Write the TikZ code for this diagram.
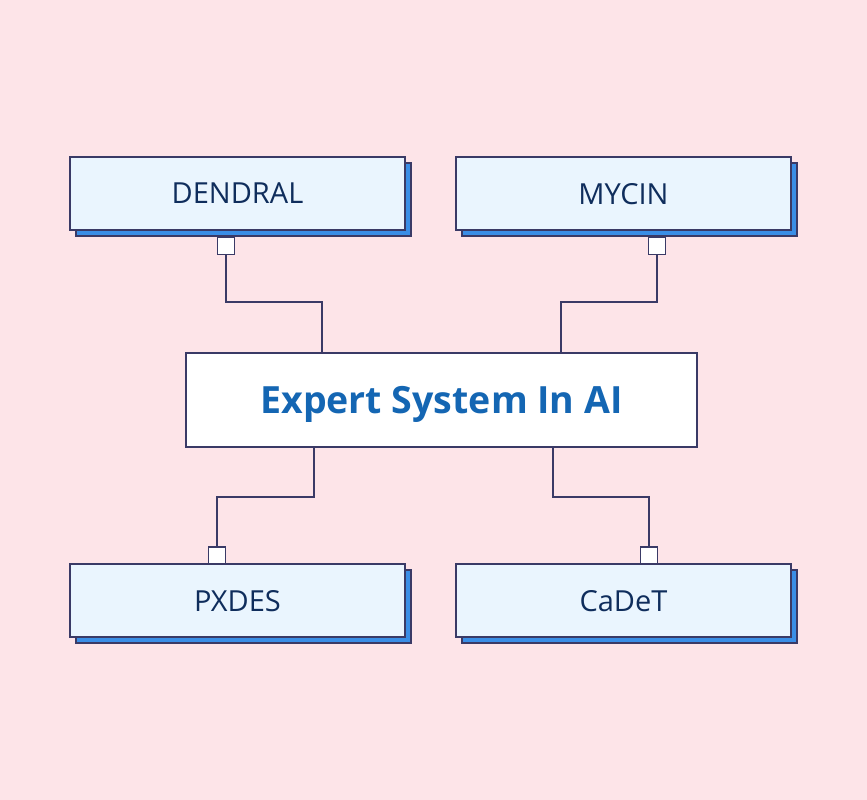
\documentclass[tikz,border=0pt]{standalone}
\usepackage{fontspec}
\setmainfont{Open Sans}
\usepackage{xcolor}
\usetikzlibrary{positioning, shadows}
\definecolor{bgpink}{HTML}{FDE4E8}
\definecolor{linenavy}{HTML}{3A3A66}
\definecolor{cellfill}{HTML}{EAF5FE}
\definecolor{shadowblue}{HTML}{3A8EE6}
\definecolor{textnavy}{HTML}{0F2D5C}
\definecolor{titleblue}{HTML}{1466B3}
\tikzset{
  sysbox/.style={draw=linenavy, line width=1.4pt, fill=white,
                 minimum width=511pt, minimum height=94pt, inner sep=0pt,
                 text depth=0pt,
                 font=\fontsize{37.5}{41}\selectfont\bfseries, text=titleblue},
  exbox/.style={draw=linenavy, line width=1.4pt, fill=cellfill,
                minimum width=335pt, minimum height=73pt, inner sep=0pt,
                text depth=0pt,
                font=\fontsize{29}{32}\selectfont, text=textnavy,
                copy shadow={shadow xshift=6pt, shadow yshift=-6pt,
                             fill=shadowblue, draw=linenavy, line width=1.4pt}},
  port/.style={draw=linenavy, line width=1.4pt, fill=white,
               minimum width=17pt, minimum height=17pt, inner sep=0pt},
  link/.style={draw=linenavy, line width=1.4pt},
}
\begin{document}
\begin{tikzpicture}[x=1pt, y=-1pt]
  \fill[bgpink] (0,0) rectangle (867,800);

  % central box
  \node (sys) [sysbox] at (441.5,400) {Expert System In AI};

  % the four systems
  \node (dendral) [exbox] at (237.5,193.5) {DENDRAL};
  \node (mycin)   [exbox] at (623.5,193.5) {MYCIN};
  \node (pxdes)   [exbox] at (237.5,600.5) {PXDES};
  \node (cadet)   [exbox] at (623.5,600.5) {CaDeT};

  % ports
  \node (dport) [port] at (226,246) {};
  \node (mport) [port] at (657,246) {};
  \node (pport) [port] at (217,555.5) {};
  \node (cport) [port] at (649,555.5) {};

  % elbows
  \coordinate (dbend) at (322,302);
  \coordinate (mbend) at (561,302);
  \coordinate (pbend) at (314,497);
  \coordinate (cbend) at (553,497);

  \draw[link] (dport.south) |- (dbend) -- (dbend |- sys.north);
  \draw[link] (mport.south) |- (mbend) -- (mbend |- sys.north);
  \draw[link] (pbend |- sys.south) -- (pbend) -| (pport.north);
  \draw[link] (cbend |- sys.south) -- (cbend) -| (cport.north);
\end{tikzpicture}
\end{document}
